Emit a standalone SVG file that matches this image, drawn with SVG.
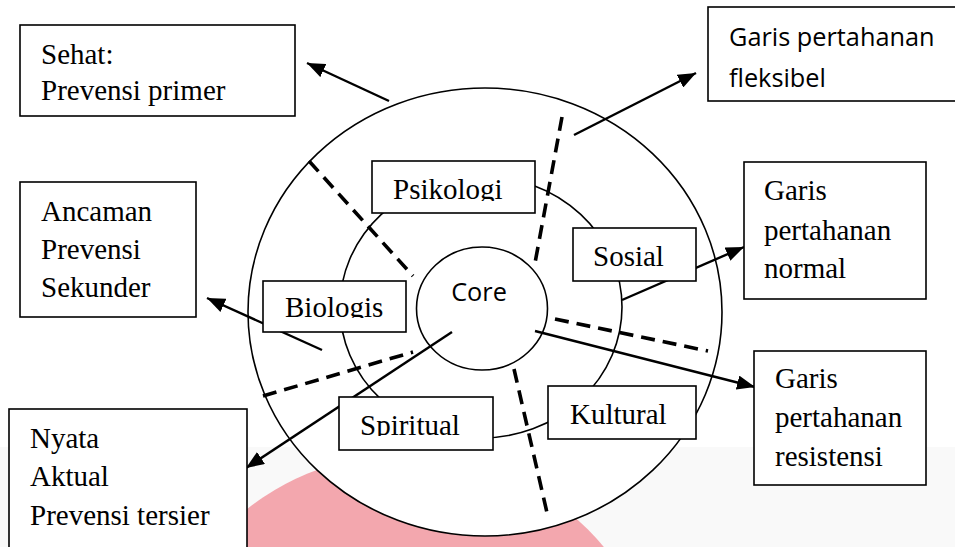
<svg xmlns="http://www.w3.org/2000/svg" width="955" height="547" viewBox="0 0 955 547">
<defs>
<style>
.box{fill:#fff;stroke:#000;stroke-width:1.6}
.ring{fill:none;stroke:#000;stroke-width:1.6}
.t{font-family:"Liberation Serif","Times New Roman",serif;font-size:29px;fill:#000}
.s{font-family:"Open Sans","Noto Sans",sans-serif;font-size:25.3px;fill:#000}
.dash{fill:none;stroke:#000;stroke-width:3.6;stroke-dasharray:14 8}
.arr{fill:none;stroke:#000;stroke-width:2.4;marker-end:url(#ah)}
</style>
<marker id="ah" viewBox="0 0 10 8" refX="10" refY="4" markerWidth="7.5" markerHeight="6" markerUnits="strokeWidth" orient="auto">
<path d="M0,0 L10,4 L0,8 z" fill="#000"/>
</marker>
<clipPath id="cPsi"><rect x="372" y="161" width="163" height="40"/></clipPath>
<clipPath id="cBio"><rect x="263" y="281" width="143" height="37"/></clipPath>
<clipPath id="cSpi"><rect x="339" y="397" width="154" height="39"/></clipPath>
</defs>
<rect x="0" y="0" width="955" height="547" fill="#fff"/>
<rect x="0" y="447" width="955" height="100" fill="#f9f9f9"/>
<circle cx="406" cy="711" r="257" fill="#f3a7ae"/>

<g id="outer-circle"><ellipse class="ring" cx="485" cy="312" rx="237" ry="224" style="fill:#fff"/></g>
<g id="middle-ring"><ellipse class="ring" cx="481" cy="307" rx="141" ry="131"/></g>

<g id="connectors">
<line class="dash" x1="309" y1="161" x2="413" y2="276"/>
<line class="dash" x1="562" y1="117" x2="535" y2="263"/>
<line class="dash" x1="555" y1="319" x2="708" y2="351"/>
<line class="dash" x1="514" y1="369" x2="548" y2="517"/>
<line class="dash" x1="263" y1="396" x2="413" y2="352"/>
<line class="arr" x1="389" y1="101" x2="307" y2="63"/>
<line class="arr" x1="574" y1="135" x2="696" y2="73"/>
<line class="arr" x1="622" y1="300" x2="744" y2="247"/>
<line class="arr" x1="535" y1="331" x2="755" y2="387"/>
<line class="arr" x1="322" y1="350" x2="207" y2="298"/>
<line class="arr" x1="452" y1="332" x2="246" y2="468"/>
</g>

<g id="core"><ellipse class="ring" cx="482" cy="308.5" rx="65.5" ry="61.5"/><text class="s" x="479" y="301" text-anchor="middle">Core</text></g>

<g id="psikologi"><rect class="box" x="372" y="161" width="163" height="52"/><text class="t" x="393" y="199" clip-path="url(#cPsi)">Psikologi</text></g>
<g id="sosial"><rect class="box" x="573" y="228" width="123" height="53"/><text class="t" x="593" y="266">Sosial</text></g>
<g id="biologis"><rect class="box" x="263" y="281" width="143" height="51"/><text class="t" x="285" y="317" clip-path="url(#cBio)">Biologis</text></g>
<g id="spiritual"><rect class="box" x="339" y="397" width="154" height="53"/><text class="t" x="360" y="435" clip-path="url(#cSpi)">Spiritual</text></g>
<g id="kultural"><rect class="box" x="548" y="386" width="148" height="53"/><text class="t" x="570" y="424">Kultural</text></g>

<g id="sehat"><rect class="box" x="20" y="25" width="275" height="91"/><text class="t" x="41" y="64">Sehat:</text><text class="t" x="41" y="100">Prevensi primer</text></g>
<g id="ancaman"><rect class="box" x="20" y="182" width="176" height="135"/><text class="t" x="41" y="221">Ancaman</text><text class="t" x="41" y="259">Prevensi</text><text class="t" x="41" y="297">Sekunder</text></g>
<g id="nyata"><rect class="box" x="9" y="409" width="238" height="150"/><text class="t" x="30" y="448">Nyata</text><text class="t" x="30" y="486">Aktual</text><text class="t" x="30" y="525">Prevensi tersier</text></g>
<g id="fleksibel"><rect class="box" x="708" y="7" width="260" height="94"/><text class="s" x="729" y="46">Garis pertahanan</text><text class="s" x="729" y="87">fleksibel</text></g>
<g id="normal"><rect class="box" x="744" y="162" width="182" height="137"/><text class="t" x="764" y="200">Garis</text><text class="t" x="764" y="240">pertahanan</text><text class="t" x="764" y="278">normal</text></g>
<g id="resistensi"><rect class="box" x="754" y="351" width="172" height="134"/><text class="t" x="775" y="388">Garis</text><text class="t" x="775" y="427">pertahanan</text><text class="t" x="775" y="466">resistensi</text></g>
</svg>
